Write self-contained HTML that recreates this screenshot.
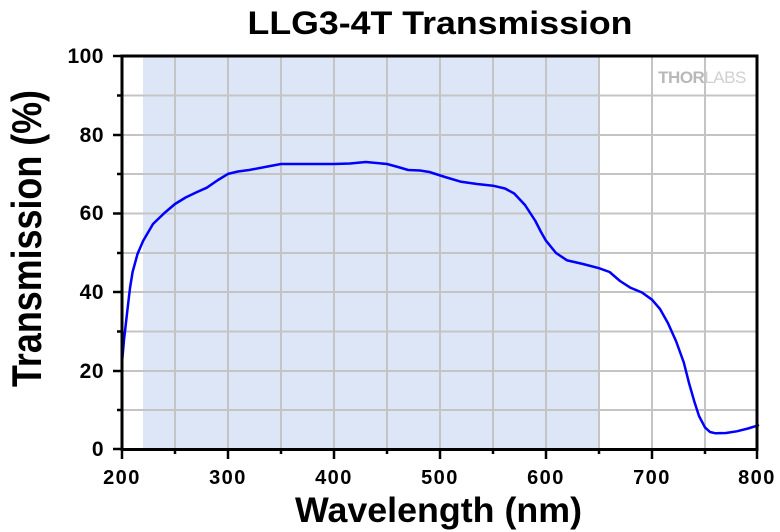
<!DOCTYPE html>
<html><head><style>
html,body{margin:0;padding:0;background:#fff;}
svg{display:block;font-family:"Liberation Sans",Arial,sans-serif;}
</style></head><body>
<svg width="780" height="532" viewBox="0 0 780 532">
<rect x="143" y="56" width="456" height="393" fill="#dce6f7"/>
<g stroke="#c4c4c4" stroke-width="2">
<line x1="175" y1="56" x2="175" y2="449"/><line x1="228" y1="56" x2="228" y2="449"/>
<line x1="281" y1="56" x2="281" y2="449"/><line x1="334" y1="56" x2="334" y2="449"/>
<line x1="387" y1="56" x2="387" y2="449"/><line x1="440" y1="56" x2="440" y2="449"/>
<line x1="493" y1="56" x2="493" y2="449"/><line x1="546" y1="56" x2="546" y2="449"/>
<line x1="599" y1="56" x2="599" y2="449"/><line x1="652" y1="56" x2="652" y2="449"/>
<line x1="705" y1="56" x2="705" y2="449"/>
<line x1="122" y1="95.5" x2="757" y2="95.5"/><line x1="122" y1="135" x2="757" y2="135"/>
<line x1="122" y1="174" x2="757" y2="174"/><line x1="122" y1="213.5" x2="757" y2="213.5"/>
<line x1="122" y1="253" x2="757" y2="253"/><line x1="122" y1="292" x2="757" y2="292"/>
<line x1="122" y1="331.5" x2="757" y2="331.5"/><line x1="122" y1="371" x2="757" y2="371"/>
<line x1="122" y1="410" x2="757" y2="410"/>
</g>
<text x="702" y="83" font-size="17" font-weight="bold" fill="#b8b8b8" text-anchor="middle" letter-spacing="-0.5">THOR<tspan font-weight="normal" fill="#d0d0d0">LABS</tspan></text>
<polyline fill="none" stroke="#0000ff" stroke-width="2.5" stroke-linejoin="round" stroke-linecap="round"
points="122,362.5 124,340 127.3,311 130,288 132.6,272 137.5,254 143.2,240.7 153,224 164.4,213 175,204 185.6,197.5 196,192.5 206.8,187.7 218,180 228,173.9 238,171.5 249.2,170 265,167 281,164 334,164 350,163.5 365.8,162 387,164 398,167 408.2,170 420,170.5 429.4,172 445,177 461.2,181.8 477,184 493,185.7 505,188.5 514.2,193.5 525,205 535.4,221 541,232 546,240.7 556,253 567.2,260.4 583,264 599,268.2 609.6,272 620,281 630.8,287.9 642,292.5 652,299.7 660,309 667.9,323 676,341 683.8,362.5 689,383 694.4,401.8 699,416 705,427.4 710,432 715.6,433.3 726,433 736.8,431.3 748,428.5 758,425.4"/>
<rect x="122" y="56" width="635" height="393.5" fill="none" stroke="#000" stroke-width="3"/>
<g stroke="#000" stroke-width="2.5">
<line x1="113" y1="56" x2="122" y2="56"/><line x1="113" y1="135" x2="122" y2="135"/>
<line x1="113" y1="213.5" x2="122" y2="213.5"/><line x1="113" y1="292" x2="122" y2="292"/>
<line x1="113" y1="371" x2="122" y2="371"/><line x1="113" y1="449" x2="122" y2="449"/>
<line x1="117" y1="95.5" x2="122" y2="95.5"/><line x1="117" y1="174" x2="122" y2="174"/>
<line x1="117" y1="253" x2="122" y2="253"/><line x1="117" y1="331.5" x2="122" y2="331.5"/>
<line x1="117" y1="410" x2="122" y2="410"/>
<line x1="122" y1="449" x2="122" y2="459"/><line x1="228" y1="449" x2="228" y2="459"/>
<line x1="334" y1="449" x2="334" y2="459"/><line x1="440" y1="449" x2="440" y2="459"/>
<line x1="546" y1="449" x2="546" y2="459"/><line x1="652" y1="449" x2="652" y2="459"/>
<line x1="757" y1="449" x2="757" y2="459"/>
<line x1="175" y1="449" x2="175" y2="454"/><line x1="281" y1="449" x2="281" y2="454"/>
<line x1="387" y1="449" x2="387" y2="454"/><line x1="493" y1="449" x2="493" y2="454"/>
<line x1="599" y1="449" x2="599" y2="454"/><line x1="705" y1="449" x2="705" y2="454"/>
</g>
<g font-size="21" font-weight="bold" fill="#000" text-anchor="end" letter-spacing="0.5">
<text x="104" y="63">100</text><text x="104" y="142">80</text><text x="104" y="220">60</text>
<text x="104" y="299">40</text><text x="104" y="378">20</text><text x="104" y="456">0</text>
</g>
<g font-size="20" font-weight="bold" fill="#000" text-anchor="middle" letter-spacing="1.5">
<text x="122" y="484">200</text><text x="228" y="484">300</text><text x="334" y="484">400</text>
<text x="440" y="484">500</text><text x="546" y="484">600</text><text x="652" y="484">700</text>
<text x="757" y="484">800</text>
</g>
<text x="440" y="34" font-size="32" font-weight="bold" text-anchor="middle" textLength="385" lengthAdjust="spacingAndGlyphs">LLG3-4T Transmission</text>
<text x="438.5" y="522" font-size="35" font-weight="bold" text-anchor="middle" textLength="287" lengthAdjust="spacingAndGlyphs">Wavelength (nm)</text>
<text transform="translate(41,238.5) rotate(-90)" font-size="42" font-weight="bold" text-anchor="middle" textLength="297" lengthAdjust="spacingAndGlyphs">Transmission (%)</text>
</svg>
</body></html>
